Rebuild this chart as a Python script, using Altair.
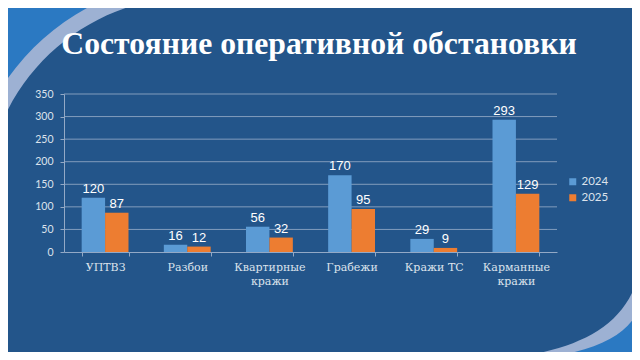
import altair as alt
import pandas as pd

categories = ["УПТВЗ", "Разбои", "Квартирные кражи", "Грабежи", "Кражи ТС", "Карманные кражи"]
values_2024 = [120, 16, 56, 170, 29, 293]
values_2025 = [87, 12, 32, 95, 9, 129]
years = ["2024", "2025"]
colors = ["#5B9BD5", "#ED7D31"]
y_ticks = [0, 50, 100, 150, 200, 250, 300, 350]
title_text = "Состояние оперативной обстановки"

rows = []
for c, v1, v2 in zip(categories, values_2024, values_2025):
    rows.append({"cat": c, "year": years[0], "value": v1})
    rows.append({"cat": c, "year": years[1], "value": v2})
df = pd.DataFrame(rows)
grid_df = pd.DataFrame({"value": y_ticks[1:]})

W, H = 493, 158
OX, OY = 64, 94  # plot origin in page pixels
GRID = "#93A9C6"
LABEL = "#DCE3EC"
DARK = "#23558A"
BRIGHT = "#2B79C2"
PALE = "#9DB1D3"

# decorative corner shapes of the slide background (page pixel units)
TL_PALE = "M -10 -10 L 157 -10 L 157 0 A 207 207 0 0 0 0 127 L -10 127 Z"
TL_BRIGHT = "M -10 -10 L 103 -10 L 103 0 A 236 236 0 0 0 0 90 L -10 90 Z"
BR_PALE = "M 650 268 L 640 268 C 628 335 560 358 470 360 L 470 370 L 650 370 Z"
BR_BRIGHT = "M 650 305 L 640 305 C 630 340 580 360 490 361 L 490 370 L 650 370 Z"


def deco(path, color):
    return alt.Chart(alt.Data(values=[{"k": 1}])).mark_point(
        shape=path, size=4, filled=True, fill=color, opacity=1, strokeWidth=0
    ).encode(x=alt.value(-OX), y=alt.value(-OY))


yscale = alt.Scale(domain=[0, 350], nice=False)
yaxis = alt.Axis(
    title=None, values=y_ticks, grid=False, labelFont="Lato", labelFontSize=10.5,
    labelColor=LABEL, tickSize=4, tickColor=GRID, domainColor=GRID, labelPadding=7,
    zindex=1,
)
xaxis = alt.Axis(
    title=None, labelAngle=0, labelFont="DejaVu Serif", labelFontSize=11,
    labelColor=LABEL, labelExpr="length(datum.label) > 10 ? split(datum.label, ' ') : datum.label",
    labelLineHeight=14, tickBand="extent", tickSize=4, tickColor=GRID, domainColor=GRID,
    labelPadding=5, grid=False, zindex=1,
)
xenc = alt.X("cat:N", sort=categories, scale=alt.Scale(paddingInner=0.43, paddingOuter=0.215), axis=xaxis)
yenc = alt.Y("value:Q", scale=yscale, axis=yaxis)

grid = alt.Chart(grid_df).mark_rule(color=GRID, strokeWidth=1, opacity=0.85).encode(y=yenc)

base = alt.Chart(df).encode(
    x=xenc,
    xOffset=alt.XOffset("year:N", sort=years, scale=alt.Scale(paddingInner=0, paddingOuter=0)),
    y=yenc,
)
bars = base.mark_bar().encode(
    color=alt.Color(
        "year:N", scale=alt.Scale(domain=years, range=colors),
        legend=alt.Legend(
            title=None, orient="none", legendX=503, legendY=82, symbolType="square",
            symbolSize=49, symbolStrokeWidth=0, labelColor=LABEL, labelFont="Lato",
            labelFontSize=11.5, rowPadding=3, labelOffset=3, padding=0,
        ),
    )
)
texts = base.mark_text(
    font="Liberation Sans", fontSize=13, color="white", baseline="alphabetic", dy=-5
).encode(text="value:Q")

title = alt.Chart(alt.Data(values=[{"t": title_text}])).mark_text(
    font="Liberation Serif", fontSize=31.7, fontWeight="bold", color="white",
    align="center", baseline="alphabetic",
).encode(text="t:N", x=alt.value(319 - OX), y=alt.value(54 - OY))

chart = alt.layer(
    deco(TL_PALE, PALE), deco(TL_BRIGHT, BRIGHT),
    deco(BR_PALE, PALE), deco(BR_BRIGHT, BRIGHT),
    grid, bars, texts, title,
).properties(
    width=W, height=H,
    padding={"left": OX - 8, "top": OY - 8, "right": 624 - (OX - 8) - W, "bottom": 344 - (OY - 8) - H},
    autosize=alt.AutoSizeParams(type="none"),
    background=DARK,
).configure_view(stroke=None)

chart.save("out.html", embed_options={"renderer": "svg", "actions": False})
